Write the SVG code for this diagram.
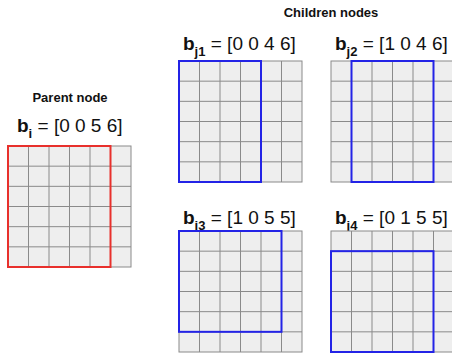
<svg xmlns="http://www.w3.org/2000/svg" xmlns:xlink="http://www.w3.org/1999/xlink" width="452" height="353" viewBox="0 0 452 353">
<style>
.hdr{font-family:"Liberation Sans",Arial,sans-serif;font-weight:bold;font-size:13px;fill:#111;text-anchor:middle}
.lbl{font-family:"Liberation Sans",Arial,sans-serif;font-size:19px;fill:#111}
.b{font-weight:bold}
.sub{font-weight:bold;font-size:13px}
.red{fill:none;stroke:#e8302c;stroke-width:2}
.blue{fill:none;stroke:#2323e6;stroke-width:2}
</style>
<defs>
<g id="grid">
<rect x="0" y="0" width="123" height="121" fill="#eeeeee" stroke="#8a8a8a" stroke-width="1"/>
<path d="M20.5 0V121M41 0V121M61.5 0V121M82 0V121M102.5 0V121M0 20.17H123M0 40.33H123M0 60.5H123M0 80.67H123M0 100.83H123" stroke="#8a8a8a" stroke-width="1" fill="none"/>
</g>
</defs>
<rect width="452" height="353" fill="#ffffff"/>
<text class="hdr" x="331" y="17">Children nodes</text>
<g id="parent">
<text class="hdr" x="70" y="102">Parent node</text>
<text class="lbl" x="17" y="132"><tspan class="b">b</tspan><tspan class="sub" dy="6">i</tspan><tspan dy="-6"> = [0 0 5 6]</tspan></text>
<use xlink:href="#grid" x="8" y="146"/>
<rect class="red" x="8" y="146" width="102.5" height="121"/>
</g>
<g id="child-j1">
<text class="lbl" x="183" y="50"><tspan class="b">b</tspan><tspan class="sub" dy="6">j1</tspan><tspan dy="-6"> = [0 0 4 6]</tspan></text>
<use xlink:href="#grid" x="179" y="61"/>
<rect class="blue" x="179" y="61" width="82" height="121"/>
</g>
<g id="child-j2">
<text class="lbl" x="335" y="50"><tspan class="b">b</tspan><tspan class="sub" dy="6">j2</tspan><tspan dy="-6"> = [1 0 4 6]</tspan></text>
<use xlink:href="#grid" x="331" y="61"/>
<rect class="blue" x="351.5" y="61" width="82" height="121"/>
</g>
<g id="child-j3">
<text class="lbl" x="183" y="224"><tspan class="b">b</tspan><tspan class="sub" dy="6">j3</tspan><tspan dy="-6"> = [1 0 5 5]</tspan></text>
<use xlink:href="#grid" x="179" y="231"/>
<rect class="blue" x="179" y="231" width="102.5" height="100.83"/>
</g>
<g id="child-j4">
<text class="lbl" x="335" y="224"><tspan class="b">b</tspan><tspan class="sub" dy="6">j4</tspan><tspan dy="-6"> = [0 1 5 5]</tspan></text>
<use xlink:href="#grid" x="331" y="231"/>
<rect class="blue" x="331" y="251.17" width="102.5" height="100.83"/>
</g>
</svg>
